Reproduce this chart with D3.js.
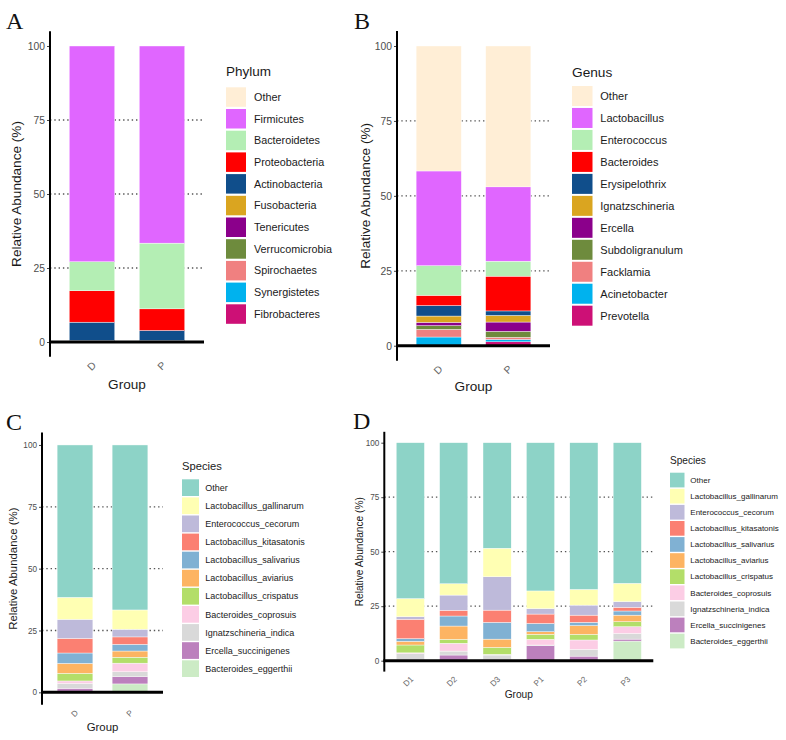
<!DOCTYPE html>
<html>
<head>
<meta charset="utf-8">
<script src="https://cdn.jsdelivr.net/npm/d3@7"></script>
<style>
  body { margin: 0; background: #fff; }
  svg { font-family: "Liberation Sans", Arial, sans-serif; }
</style>
</head>
<body>
<svg id="chart" width="786" height="740"></svg>
<script>
// ---- data ----
const groupsAB = ["D", "P"];
const groupsD = ["D1", "D2", "D3", "P1", "P2", "P3"];
const yTicks = [0, 25, 50, 75, 100];

const phyla = ["Other", "Firmicutes", "Bacteroidetes", "Proteobacteria", "Actinobacteria",
  "Fusobacteria", "Tenericutes", "Verrucomicrobia", "Spirochaetes", "Synergistetes", "Fibrobacteres"];
const phylumD = [0, 72.9, 9.8, 10.6, 6.2, 0.1, 0.1, 0.1, 0.1, 0.05, 0.05];
const phylumP = [0, 66.6, 22.2, 7.3, 3.4, 0.1, 0.1, 0.1, 0.1, 0.05, 0.05];

const genera = ["Other", "Lactobacillus", "Enterococcus", "Bacteroides", "Erysipelothrix",
  "Ignatzschineria", "Ercella", "Subdoligranulum", "Facklamia", "Acinetobacter", "Prevotella"];
const genusD = [41.7, 31.6, 9.9, 3.4, 3.5, 2.1, 1.1, 1.25, 2.55, 2.8, 0.1];
const genusP = [47.0, 24.8, 5.0, 11.6, 1.5, 2.2, 3.1, 2.0, 0.7, 0.8, 1.3];

const species = ["Other", "Lactobacillus_gallinarum", "Enterococcus_cecorum", "Lactobacillus_kitasatonis",
  "Lactobacillus_salivarius", "Lactobacillus_aviarius", "Lactobacillus_crispatus", "Bacteroides_coprosuis",
  "Ignatzschineria_indica", "Ercella_succinigenes", "Bacteroides_eggerthii"];
const speciesD = [61.6, 8.9, 7.7, 5.9, 4.2, 4.0, 3.1, 1.0, 2.0, 1.5, 0.1];
const speciesP = [66.7, 7.8, 3.1, 3.0, 2.7, 2.5, 2.4, 3.5, 2.0, 2.9, 3.4];

const speciesD1 = [71.5, 8.3, 1.2, 8.9, 1.2, 1.7, 3.6, 0.4, 2.8, 0.2, 0.2];
const speciesD2 = [64.7, 5.2, 7.0, 2.6, 4.6, 6.1, 1.8, 3.6, 1.8, 2.5, 0.1];
const speciesD3 = [48.4, 13.1, 15.3, 5.6, 7.7, 3.8, 3.2, 0.3, 2.0, 0.3, 0.3];
const speciesP1 = [68.0, 8.1, 2.5, 4.3, 3.8, 1.2, 2.3, 2.6, 0.3, 6.8, 0.1];
const speciesP2 = [67.3, 7.2, 4.6, 3.3, 1.5, 4.0, 2.6, 4.3, 3.1, 2.0, 0.1];
const speciesP3 = [64.5, 8.4, 2.6, 1.7, 1.9, 3.0, 2.3, 3.1, 2.6, 0.9, 9.0];

const taxaColors = ["#FFEED6", "#E066FF", "#B4EEB4", "#FF0000", "#104E8B", "#DAA520",
  "#8B008B", "#6E8B3D", "#F08080", "#00B2EE", "#CD1076"];
const set3Colors = ["#8DD3C7", "#FFFFB3", "#BEBADA", "#FB8072", "#80B1D3", "#FDB462",
  "#B3DE69", "#FCCDE5", "#D9D9D9", "#BC80BD", "#CCEBC5"];

const svg = d3.select("#chart");

function drawPanel(p) {
  const g = svg.append("g");
  const y = d3.scaleLinear().domain([-5, 105]).range([p.yBot, p.yTop]);
  const x = d3.scalePoint().domain(p.groups).range([p.x0, p.x1]).padding(0.6);
  const bw = x.step() * 0.65;
  const color = d3.scaleOrdinal(p.cats, p.colors);

  // stack: first category on top, so stack in reverse order
  const rows = p.groups.map((grp, i) => {
    const r = { group: grp };
    p.cats.forEach((c, j) => r[c] = p.values[i][j]);
    return r;
  });
  const series = d3.stack().keys(p.cats.slice().reverse())(rows);

  // dotted grid
  g.selectAll(".grid").data([25, 50, 75]).enter().append("line")
    .attr("x1", p.x0).attr("x2", p.x1)
    .attr("y1", d => y(d)).attr("y2", d => y(d))
    .attr("stroke", "#555").attr("stroke-width", 1.3)
    .attr("stroke-dasharray", "1.4 2.9");

  g.selectAll(".layer").data(series).enter().append("g")
    .attr("fill", d => color(d.key))
    .selectAll("rect").data(d => d).enter().append("rect")
    .attr("x", d => x(d.data.group) - bw / 2)
    .attr("width", bw)
    .attr("y", d => y(d[1]))
    .attr("height", d => Math.max(0, y(d[0]) - y(d[1])))
    .attr("stroke", "#fff").attr("stroke-width", 0.4);

  // y axis
  const ya = g.append("g").attr("transform", `translate(${p.x0},0)`)
    .call(d3.axisLeft(y).tickValues(yTicks).tickSize(3).tickPadding(2));
  ya.select(".domain").remove();
  ya.selectAll(".tick line").attr("stroke", "#444");
  ya.selectAll(".tick text").attr("fill", "#4d4d4d").attr("font-size", p.tickFs)
    .attr("font-family", "Liberation Sans, Arial, sans-serif");
  g.append("line").attr("x1", p.x0).attr("x2", p.x0).attr("y1", p.yTop).attr("y2", p.yBot)
    .attr("stroke", "#000").attr("stroke-width", 2);
  g.append("line").attr("x1", p.x0 - 1).attr("x2", p.x1).attr("y1", y(0)).attr("y2", y(0))
    .attr("stroke", "#000").attr("stroke-width", 3);

  // x tick labels
  g.selectAll(".xl").data(p.groups).enter().append("text")
    .attr("transform", d => `translate(${x(d) + p.tickFs * 0.45},${y(0) + p.xlOff}) rotate(-45)`)
    .attr("text-anchor", "end").attr("font-size", p.tickFs).attr("fill", "#666")
    .text(d => d);

  // axis titles
  g.append("text").attr("x", (p.x0 + p.x1) / 2).attr("y", p.groupY)
    .attr("text-anchor", "middle").attr("font-size", p.titleFs).attr("fill", "#1a1a1a").text("Group");
  g.append("text").attr("transform", `translate(${p.ytX},${(p.yTop + p.yBot) / 2}) rotate(-90)`)
    .attr("text-anchor", "middle").attr("font-size", p.titleFs).attr("fill", "#1a1a1a")
    .text("Relative Abundance (%)");

  // panel letter
  g.append("text").attr("x", p.letterX).attr("y", p.letterY)
    .attr("font-family", "Liberation Serif, Times New Roman, serif").attr("font-size", 24)
    .attr("fill", "#111").text(p.letter);

  // legend
  const lg = g.append("g");
  lg.append("text").attr("x", p.lx).attr("y", p.ltY).attr("font-size", p.lTitleFs)
    .attr("fill", "#1a1a1a").text(p.legendTitle);
  const items = lg.selectAll(".li").data(p.cats).enter().append("g")
    .attr("transform", (d, i) => `translate(${p.lx},${p.lyStart + i * p.lStep})`);
  items.append("rect").attr("width", p.kw).attr("height", p.kh).attr("fill", d => color(d));
  items.append("text").attr("x", p.ltx - p.lx).attr("y", p.kh / 2).attr("dy", "0.35em")
    .attr("font-size", p.lFs).attr("fill", "#1a1a1a").text(d => d);
}

drawPanel({
  letter: "A", letterX: 6, letterY: 29,
  groups: groupsAB, cats: phyla, colors: taxaColors, values: [phylumD, phylumP],
  x0: 50, x1: 204, yTop: 31.2, yBot: 356.8,
  tickFs: 10.3, titleFs: 13.6, xlOff: 24, groupY: 389, ytX: 21,
  legendTitle: "Phylum", lx: 226, ltY: 76, lTitleFs: 13.5, lyStart: 87.3, lStep: 21.7,
  kw: 20, kh: 19.5, ltx: 254, lFs: 10.8
});

drawPanel({
  letter: "B", letterX: 354, letterY: 29,
  groups: groupsAB, cats: genera, colors: taxaColors, values: [genusD, genusP],
  x0: 397, x1: 550, yTop: 31, yBot: 360.7,
  tickFs: 10.3, titleFs: 13.6, xlOff: 24, groupY: 391, ytX: 370,
  legendTitle: "Genus", lx: 572, ltY: 77, lTitleFs: 13.7, lyStart: 86, lStep: 21.97,
  kw: 20.5, kh: 20, ltx: 600.3, lFs: 11
});

drawPanel({
  letter: "C", letterX: 6, letterY: 430,
  groups: groupsAB, cats: species, colors: set3Colors, values: [speciesD, speciesP],
  x0: 42, x1: 163, yTop: 432.6, yBot: 704.7,
  tickFs: 8.2, titleFs: 11.4, xlOff: 21, groupY: 731, ytX: 17,
  legendTitle: "Species", lx: 182, ltY: 470, lTitleFs: 11.2, lyStart: 479.3, lStep: 18.1,
  kw: 17, kh: 16.7, ltx: 205.3, lFs: 9
});

drawPanel({
  letter: "D", letterX: 353, letterY: 429,
  groups: groupsD, cats: species, colors: set3Colors, values: [speciesD1, speciesD2, speciesD3, speciesP1, speciesP2, speciesP3],
  x0: 384.3, x1: 653.3, yTop: 431.8, yBot: 671.6,
  tickFs: 8.2, titleFs: 10.2, xlOff: 19, groupY: 698, ytX: 362.5,
  legendTitle: "Species", lx: 670, ltY: 464, lTitleFs: 10.1, lyStart: 472.7, lStep: 16.1,
  kw: 14.5, kh: 14.7, ltx: 690.3, lFs: 8
});
</script>
</body>
</html>
